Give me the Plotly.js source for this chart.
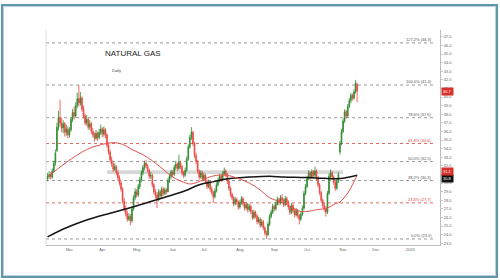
<!DOCTYPE html>
<html>
<head>
<meta charset="utf-8">
<script src="https://cdn.plot.ly/plotly-3.0.1.min.js"></script>
<style>
  html, body { margin: 0; padding: 0; background: #ffffff; }
  #wrap { position: relative; width: 500px; height: 280px; overflow: hidden; }
  #chart { position: absolute; left: 0; top: 0; width: 500px; height: 280px; }
  #frame { position: absolute; left: 1px; top: 4px; width: 493px; height: 270px;
           border: 2px solid #6197ad; box-shadow: inset 0 0 0 1px #b9d3de; pointer-events: none; }
</style>
</head>
<body>
<div id="wrap">
  <div id="chart"></div>
  <div id="frame"></div>
</div>
<script>
// ---------- data ----------
const chartTitle = 'NATURAL GAS';
const chartSubtitle = 'Daily';
const firstSession = '2019-02-11';

const open = [30.5,30.8,31.0,30.7,31.4,32.3,33.8,36.5,37.6,37.0,36.4,36.9,35.9,36.3,35.6,36.2,37.4,38.2,37.8,39.0,
39.8,39.3,39.9,38.6,37.8,37.0,37.4,36.5,36.9,36.0,35.6,35.2,35.8,35.3,35.9,36.3,35.7,36.2,35.6,34.4,
33.6,32.7,32.2,31.6,31.9,31.2,30.6,30.0,29.3,27.9,27.0,26.4,25.8,26.1,25.6,27.0,28.3,29.0,28.6,29.6,
30.4,31.2,31.8,32.3,32.0,31.5,30.8,30.9,29.8,29.0,28.6,28.1,29.0,28.5,29.3,28.8,29.2,29.0,30.3,30.8,
31.3,31.0,31.8,32.2,31.7,32.4,31.9,31.2,30.9,31.5,32.8,34.2,35.3,35.9,34.6,33.2,32.5,31.4,30.7,31.2,
30.5,30.9,30.2,29.6,30.1,29.3,28.9,28.4,29.1,29.8,30.3,30.8,30.4,31.1,31.4,31.0,30.2,29.4,28.7,28.3,
27.6,28.1,27.8,27.2,27.7,28.2,27.6,27.1,27.5,26.9,27.3,26.7,26.0,26.6,26.2,25.5,25.8,25.1,25.5,24.8,
24.2,24.0,25.2,26.1,26.6,27.3,27.0,27.6,28.1,27.7,28.3,28.0,27.5,28.2,27.8,27.2,26.6,27.4,26.8,26.3,
26.8,26.2,25.8,26.4,27.1,28.8,29.6,30.5,31.2,30.7,31.3,30.9,31.4,30.6,29.8,28.9,28.0,27.4,27.0,26.6,
28.8,30.8,31.2,30.7,30.1,29.4,30.2,33.6,34.6,36.0,37.2,38.3,37.8,38.9,39.6,40.2,39.9,40.6,41.5];

const high = [31.2,31.4,31.3,31.7,32.6,33.9,37.0,38.4,39.7,37.6,37.3,37.1,36.8,36.6,36.5,37.7,38.6,38.9,39.4,40.5,
41.4,40.6,40.1,39.0,38.1,37.9,37.6,37.3,37.1,36.4,35.9,36.2,36.0,36.3,36.8,36.5,36.6,36.4,35.8,34.7,
33.9,33.1,32.5,32.3,32.1,31.5,30.9,30.3,29.5,28.3,27.4,26.8,26.5,26.4,27.3,28.6,29.4,29.3,29.9,30.7,
31.5,32.1,32.6,32.7,32.2,31.7,31.3,31.1,30.0,29.3,28.9,29.3,29.2,29.6,29.5,29.5,29.4,30.6,31.1,31.6,
31.5,32.1,32.6,32.4,33.3,32.6,32.1,31.4,31.8,33.1,34.5,35.6,36.5,36.1,34.8,33.5,32.7,31.6,31.5,31.4,
31.2,31.1,30.4,30.4,30.3,29.6,29.1,29.4,30.1,30.6,31.1,31.0,31.4,31.8,31.6,31.2,30.4,29.6,28.9,28.5,
28.4,28.3,28.0,28.0,28.5,28.4,27.8,27.8,27.7,27.6,27.5,26.9,26.9,26.8,26.4,26.1,26.0,25.8,25.7,25.0,
24.5,25.5,26.4,26.9,27.6,27.5,27.9,28.4,28.3,28.6,28.7,28.2,28.5,28.4,28.0,27.4,27.7,27.6,27.0,27.1,
27.0,26.4,26.7,27.4,29.1,29.9,30.8,31.5,31.4,31.6,31.5,31.9,31.6,30.8,30.0,29.1,28.2,27.7,27.3,29.1,
31.1,31.6,31.4,30.9,30.3,30.5,31.3,34.9,36.3,37.5,38.6,38.5,39.2,39.9,40.5,40.4,40.9,42.0,41.7];

const low = [30.2,30.5,30.4,30.5,31.2,32.0,33.6,36.1,36.6,35.9,35.8,35.4,35.5,35.2,35.3,36.0,37.1,37.4,37.6,38.7,
38.9,39.0,38.3,37.5,36.7,36.7,36.2,36.2,35.7,35.3,34.8,35.0,34.9,35.1,35.6,35.3,35.4,35.2,34.1,33.3,
32.4,31.9,31.3,31.4,30.9,30.3,29.7,29.0,27.6,26.7,26.1,25.5,25.6,25.1,25.4,26.8,28.0,28.3,28.4,29.3,
30.1,30.9,31.5,31.7,31.2,30.5,30.5,29.5,28.7,28.2,27.1,27.9,28.2,28.3,28.5,28.6,28.7,28.9,30.0,30.5,
30.7,30.8,31.5,31.4,31.5,31.6,30.9,30.6,30.7,31.3,32.6,34.0,35.0,34.3,32.9,32.2,31.1,30.4,30.5,30.2,
30.3,29.9,29.3,29.4,29.0,28.6,27.7,28.2,28.9,29.6,30.1,30.1,30.2,30.9,30.7,29.9,29.1,28.4,28.0,27.3,
27.4,27.5,26.9,27.0,27.5,27.3,26.8,26.9,26.6,26.7,26.4,25.7,25.8,25.9,25.2,25.3,24.8,24.9,24.5,23.9,
23.5,23.8,25.0,25.9,26.4,26.7,26.8,27.4,27.4,27.5,27.7,27.2,27.3,27.5,26.9,26.3,26.4,26.5,26.0,26.1,
25.9,25.2,25.6,26.2,26.9,28.6,29.4,30.3,30.4,30.5,30.6,30.7,30.3,29.5,28.6,27.7,27.1,26.7,26.1,26.4,
28.6,30.5,30.4,29.8,29.1,29.2,30.0,33.3,34.4,35.8,37.0,37.5,37.6,38.7,39.3,39.6,39.7,40.4,39.4];

const close = [30.8,31.0,30.7,31.4,32.3,33.5,36.5,37.6,37.0,36.4,36.9,35.9,36.3,35.6,36.2,37.4,38.2,37.8,39.0,39.8,
39.3,39.9,38.6,37.8,37.0,37.4,36.5,36.9,36.0,35.6,35.2,35.8,35.3,35.9,36.3,35.7,36.2,35.6,34.4,33.6,
32.7,32.2,31.6,31.9,31.2,30.6,30.0,29.3,27.9,27.0,26.4,25.8,26.1,25.6,27.0,28.3,29.0,28.6,29.6,30.4,
31.2,31.8,32.3,32.0,31.5,30.8,30.9,29.8,29.0,28.6,28.1,29.0,28.5,29.3,28.8,29.2,29.0,30.3,30.8,31.3,
31.0,31.8,32.2,31.7,32.4,31.9,31.2,30.9,31.5,32.8,34.2,35.3,35.9,34.6,33.2,32.5,31.4,30.7,31.2,30.5,
30.9,30.2,29.6,30.1,29.3,28.9,28.4,29.1,29.8,30.3,30.8,30.4,31.1,31.4,31.0,30.2,29.4,28.7,28.3,27.6,
28.1,27.8,27.2,27.7,28.2,27.6,27.1,27.5,26.9,27.3,26.7,26.0,26.6,26.2,25.5,25.8,25.1,25.5,24.8,24.2,
24.0,25.2,26.1,26.6,27.3,27.0,27.6,28.1,27.7,28.3,28.0,27.5,28.2,27.8,27.2,26.6,27.4,26.8,26.3,26.8,
26.2,25.8,26.4,27.1,28.8,29.6,30.5,31.2,30.7,31.3,30.9,31.4,30.6,29.8,28.9,28.0,27.4,27.0,26.6,28.8,
30.8,31.2,30.7,30.1,29.4,30.2,31.0,34.6,36.0,37.2,38.3,37.8,38.9,39.6,40.2,39.9,40.6,41.6,40.7];

// moving averages, read at a few sessions (session index -> value)
const maSession = [0,12,25,33,42,48,54,61,67,74,80,87,91,96,102,108,115,121,129,136,142,151,157,162,168,172,179,184,187,192,195,198];
const maFast = [30.7,32.4,33.9,34.4,34.7,34.5,33.9,33.3,32.6,31.6,30.7,30.1,29.9,30.1,30.6,30.9,30.9,30.6,30.0,29.2,28.3,27.7,27.1,26.7,26.75,26.9,27.1,27.6,27.8,28.85,29.8,30.9];
const slowSession = [0,12,25,40,54,65,76,88,97,107,115,129,142,151,162,172,181,185,190,198];
const maSlow = [23.75,24.8,25.7,26.5,27.2,27.8,28.4,29.1,29.8,30.2,30.5,30.7,30.8,30.7,30.65,30.6,30.5,30.5,30.6,30.9];

// Fibonacci retracement levels
const fibPct = ['0.0%','23.6%','38.2%','50.0%','61.8%','78.6%','100.0%','127.2%'];
const fibPrice = [23.5,27.7,30.3,32.5,34.6,37.6,41.4,46.3];
const fibHighlight = [false,true,false,false,true,false,false,false];

// support zone
const zoneStart = '2019-04-04';
const zoneEnd = '2019-11-01';
const zoneLow = 31.05;
const zoneHigh = 31.5;

// axis labels
const monthTicks = ['2019-03-01','2019-04-01','2019-05-01','2019-06-03','2019-07-01','2019-08-01','2019-09-02','2019-10-01','2019-11-01','2019-12-02','2020-01-01'];
const monthLabels = ['Mar','Apr','May','Jun','Jul','Aug','Sep','Oct','Nov','Dec','2020'];
const lastPriceLabel = '40.7';
const maLabelFast = '31.1';
const maLabelSlow = '30.8';

// ---------- build ----------
function sessions(start, n) {
  const d = new Date(start + 'T00:00:00Z');
  const out = [];
  while (out.length < n) {
    const wd = d.getUTCDay();
    if (wd !== 0 && wd !== 6) out.push(d.toISOString().slice(0, 10));
    d.setUTCDate(d.getUTCDate() + 1);
  }
  return out;
}
const dates = sessions(firstSession, close.length);

const candle = {
  type: 'candlestick', x: dates, open: open, high: high, low: low, close: close,
  increasing: { line: { color: '#2a8a2c', width: 0.8 }, fillcolor: '#2a8a2c' },
  decreasing: { line: { color: '#e8443c', width: 0.8 }, fillcolor: '#e8443c' },
  whiskerwidth: 0, hoverinfo: 'skip', showlegend: false
};
const fastTrace = {
  type: 'scatter', mode: 'lines', x: maSession.map(i => dates[i]), y: maFast,
  line: { color: '#e0524c', width: 1, shape: 'spline', smoothing: 1 }, showlegend: false, hoverinfo: 'skip'
};
const slowTrace = {
  type: 'scatter', mode: 'lines', x: slowSession.map(i => dates[i]), y: maSlow,
  line: { color: '#151515', width: 1.5, shape: 'spline', smoothing: 1 }, showlegend: false, hoverinfo: 'skip'
};

const shapes = [];
const annotations = [];
fibPrice.forEach((p, k) => {
  const col = fibHighlight[k] ? '#e06a64' : '#9a9a9a';
  shapes.push({ type: 'line', xref: 'paper', yref: 'y', x0: 0, x1: 0.99, y0: p, y1: p,
    line: { color: col, width: 1, dash: 'dot' }, layer: 'below' });
  annotations.push({ xref: 'paper', yref: 'y', x: 0.985, y: p, xanchor: 'right', yanchor: 'bottom',
    text: fibPct[k] + ' (' + p.toFixed(1) + ')', showarrow: false, yshift: -1,
    font: { size: 4, color: fibHighlight[k] ? '#d9433c' : '#555555', family: 'Liberation Sans, Arial, sans-serif' } });
});
shapes.push({ type: 'rect', xref: 'x', yref: 'y', x0: zoneStart, x1: zoneEnd, y0: zoneLow, y1: zoneHigh,
  fillcolor: '#d4d4d4', line: { width: 0 }, layer: 'below', opacity: 0.9 });
shapes.push({ type: 'line', xref: 'paper', yref: 'paper', x0: 0, x1: 0, y0: 0, y1: 1,
  line: { color: '#dcdcdc', width: 1 } });

annotations.push({ xref: 'paper', yref: 'paper', x: 0.22, y: 1.0, xanchor: 'center', yanchor: 'middle', yshift: -23,
  text: chartTitle, showarrow: false, font: { size: 8, color: '#222', family: 'Liberation Sans, Arial, sans-serif' } });
annotations.push({ xref: 'paper', yref: 'paper', x: 0.18, y: 1.0, xanchor: 'center', yanchor: 'middle', yshift: -40,
  text: chartSubtitle, showarrow: false, font: { size: 4, color: '#444', family: 'Liberation Sans, Arial, sans-serif' } });

function axisTag(price, txt, bg) {
  return { xref: 'paper', yref: 'y', x: 1.0, y: price, xanchor: 'left', yanchor: 'middle', xshift: 1,
    text: txt, showarrow: false, bgcolor: bg, borderpad: 1,
    font: { size: 4, color: '#ffffff', family: 'Liberation Sans, Arial, sans-serif' } };
}
annotations.push(axisTag(close[close.length - 1], lastPriceLabel, '#d8302a'));
annotations.push(axisTag(maSlow[maSlow.length - 1] - 0.4, maLabelSlow, '#111111'));
annotations.push(axisTag(maFast[maFast.length - 1] + 0.4, maLabelFast, '#d8302a'));

const layout = {
  width: 500, height: 280,
  margin: { l: 46, r: 60, t: 30, b: 35, pad: 0 },
  paper_bgcolor: '#ffffff', plot_bgcolor: '#ffffff',
  showlegend: false,
  xaxis: {
    type: 'date', range: ['2019-02-08', '2020-01-28'],
    rangebreaks: [{ bounds: ['sat', 'mon'] }],
    rangeslider: { visible: false },
    tickvals: monthTicks, ticktext: monthLabels,
    showgrid: false, zeroline: false,
    showline: true, linecolor: '#bdbdbd', linewidth: 1,
    ticks: '', tickfont: { size: 4, color: '#666', family: 'Liberation Sans, Arial, sans-serif' }
  },
  yaxis: {
    side: 'right', range: [22.8, 47.8], dtick: 1, tick0: 0, tickformat: '.1f',
    showgrid: false, zeroline: false,
    showline: true, linecolor: '#bdbdbd', linewidth: 1,
    ticks: 'outside', ticklen: 2, tickcolor: '#cccccc',
    tickfont: { size: 4, color: '#666', family: 'Liberation Sans, Arial, sans-serif' }
  },
  shapes: shapes,
  annotations: annotations
};

Plotly.newPlot('chart', [candle, slowTrace, fastTrace], layout, { staticPlot: true, displayModeBar: false });
</script>
</body>
</html>
